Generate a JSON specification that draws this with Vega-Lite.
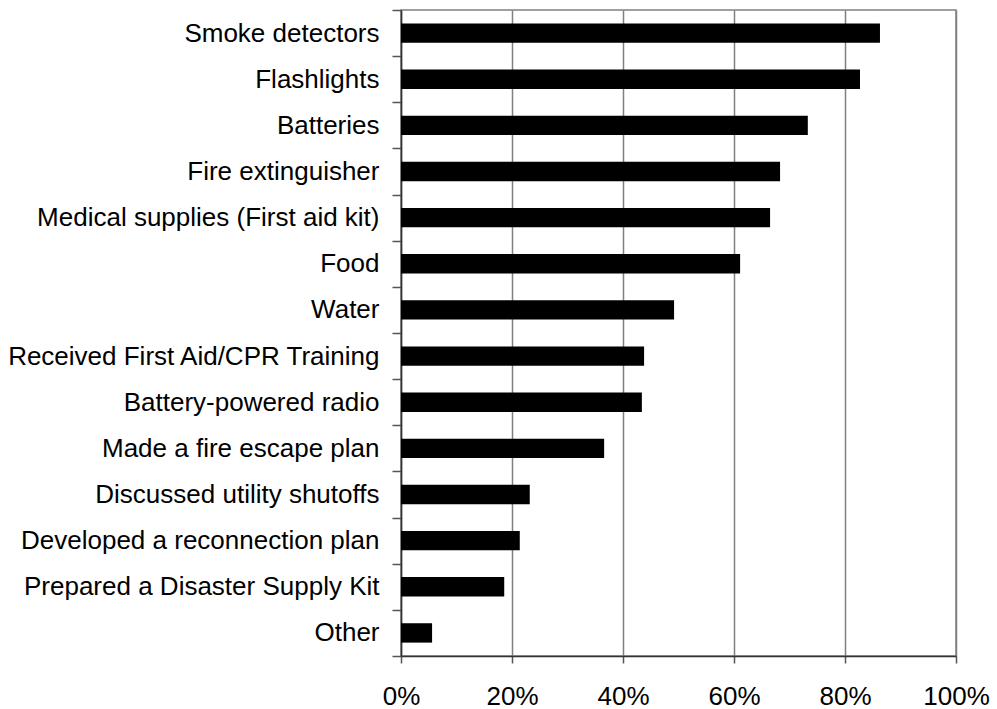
{
  "$schema": "https://vega.github.io/schema/vega-lite/v6.json",
  "autosize": "none",
  "width": 555,
  "height": 646,
  "padding": {"left": 401, "top": 10, "right": 41, "bottom": 53},
  "background": "white",
  "config": {
    "font": "Liberation Sans",
    "view": {"stroke": "#808080", "strokeWidth": 1.5},
    "axis": {
      "labelFont": "Liberation Sans",
      "labelFontSize": 26,
      "labelColor": "black",
      "domainColor": "#333333",
      "domainWidth": 1.5,
      "tickColor": "#555555",
      "tickWidth": 1.5,
      "title": null
    }
  },
  "data": {
    "values": [
      {"item": "Smoke detectors", "share": 0.863},
      {"item": "Flashlights", "share": 0.827},
      {"item": "Batteries", "share": 0.733},
      {"item": "Fire extinguisher", "share": 0.683},
      {"item": "Medical supplies (First aid kit)", "share": 0.665},
      {"item": "Food", "share": 0.611},
      {"item": "Water", "share": 0.492},
      {"item": "Received First Aid/CPR Training", "share": 0.438},
      {"item": "Battery-powered radio", "share": 0.434},
      {"item": "Made a fire escape plan", "share": 0.366},
      {"item": "Discussed utility shutoffs", "share": 0.232},
      {"item": "Developed a reconnection plan", "share": 0.214},
      {"item": "Prepared a Disaster Supply Kit", "share": 0.186},
      {"item": "Other", "share": 0.056}
    ]
  },
  "mark": {"type": "bar", "color": "black", "height": {"band": 0.42}},
  "encoding": {
    "y": {
      "field": "item",
      "type": "nominal",
      "sort": null,
      "scale": {"paddingInner": 0, "paddingOuter": 0},
      "axis": {
        "tickBand": "extent",
        "tickSize": 9,
        "labelPadding": 13,
        "grid": false,
        "labelLimit": 500
      }
    },
    "x": {
      "field": "share",
      "type": "quantitative",
      "scale": {"domain": [0, 1]},
      "axis": {
        "values": [0, 0.2, 0.4, 0.6, 0.8, 1],
        "format": ".0%",
        "tickSize": 7,
        "labelPadding": 20,
        "grid": true,
        "gridColor": "#808080",
        "gridWidth": 1.5,
        "labelFlush": false
      }
    }
  }
}
